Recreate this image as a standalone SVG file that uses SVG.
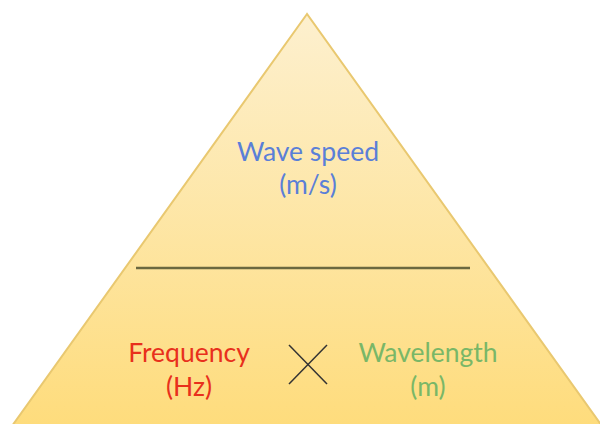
<svg xmlns="http://www.w3.org/2000/svg" width="600" height="424" viewBox="0 0 600 424">
<style>
text{font-family:Lato,"Open Sans","Liberation Sans",sans-serif;font-size:26.5px;text-anchor:middle}
.blue{fill:#5a7fd8}.red{fill:#e8301c}.green{fill:#79b767}
</style>
<defs>
<linearGradient id="g" x1="0" y1="0" x2="0" y2="1">
<stop offset="0" stop-color="#fdf0cf"/>
<stop offset="1" stop-color="#fedc7c"/>
</linearGradient>
</defs>
<rect width="600" height="424" fill="#ffffff"/>
<g id="pyramid">
<polygon points="307,14 12,426 602,426" fill="url(#g)" stroke="#e9c870" stroke-width="2"/>
<line x1="136" y1="268" x2="470" y2="268" stroke="#6b6840" stroke-width="2.5"/>
</g>
<g id="top">
<text class="blue" x="308" y="161">Wave speed</text>
<text class="blue" x="308" y="194">(m/s)</text>
</g>
<g id="frequency">
<text class="red" x="189" y="362">Frequency</text>
<text class="red" x="189" y="396">(Hz)</text>
</g>
<g id="times">
<line x1="289" y1="345" x2="327" y2="384" stroke="#333" stroke-width="1.5"/>
<line x1="327" y1="345" x2="289" y2="384" stroke="#333" stroke-width="1.5"/>
</g>
<g id="wavelength">
<text class="green" x="428" y="362">Wavelength</text>
<text class="green" x="428" y="396">(m)</text>
</g>
</svg>
